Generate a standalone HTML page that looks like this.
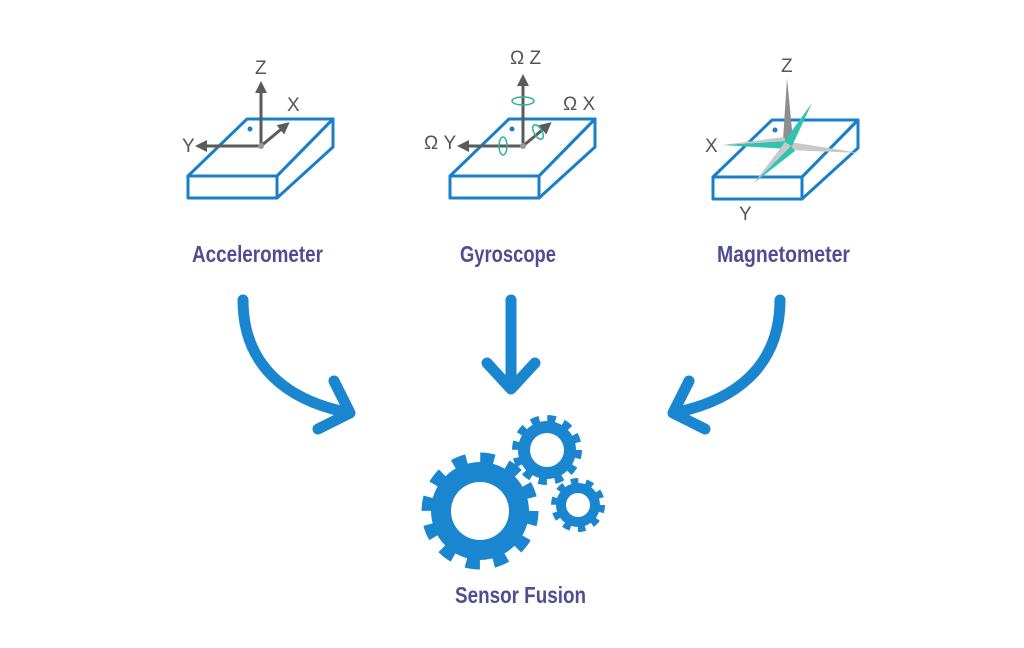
<!DOCTYPE html>
<html><head><meta charset="utf-8"><style>
html,body{margin:0;padding:0;background:#fff;width:1024px;height:648px;overflow:hidden}
text.l{font-family:"Liberation Sans Narrow","Liberation Sans",sans-serif;font-weight:bold;fill:#4f4e92;font-size:23px}
text.a{font-family:"Liberation Sans Narrow","Liberation Sans",sans-serif;fill:#555;font-size:19px}
</style></head><body>
<svg width="1024" height="648" viewBox="0 0 1024 648" xmlns="http://www.w3.org/2000/svg">
<defs>
<g id="box" fill="none" stroke="#1a7fc9" stroke-width="3" stroke-linejoin="round">
<polygon points="0,58 59,1 145,1 89,58"/>
<polygon points="0,58 89,58 89,80 0,80"/>
<polygon points="89,58 145,1 145,29 89,80"/>
<circle cx="62" cy="11" r="2.5" fill="#1a7fc9" stroke="none"/>
</g>
<marker id="ah" markerWidth="4" markerHeight="4" refX="2" refY="2" orient="auto"><path d="M0,0 L4,2 L0,4z" fill="#5b5b5b"/></marker>
</defs>
<use href="#box" x="188" y="118"/>
<g stroke="#5b5b5b" stroke-width="3" fill="none" marker-end="url(#ah)">
<line x1="261" y1="146" x2="261" y2="87"/>
<line x1="261" y1="146" x2="285" y2="126"/>
<line x1="261" y1="146" x2="201" y2="146"/>
</g>
<circle cx="261" cy="146" r="3" fill="#999"/>
<text class="a" x="255" y="74">Z</text><text class="a" x="287" y="111">X</text><text class="a" x="182" y="152">Y</text>
<use href="#box" x="450" y="118"/>
<g stroke="#5b5b5b" stroke-width="3" fill="none" marker-end="url(#ah)">
<line x1="523" y1="146" x2="523" y2="80"/>
<line x1="523" y1="146" x2="547" y2="126"/>
<line x1="523" y1="146" x2="463" y2="146"/>
</g>
<circle cx="523" cy="146" r="3" fill="#999"/>
<g fill="none" stroke="#2bb39a" stroke-width="1.5">
<ellipse cx="523" cy="101" rx="11" ry="4"/>
<ellipse cx="503" cy="146" rx="4" ry="9"/>
<ellipse cx="538" cy="132" rx="4" ry="8" transform="rotate(-30 538 132)"/>
</g>
<text class="a" x="510" y="64">Ω Z</text><text class="a" x="563" y="110">Ω X</text><text class="a" x="424" y="149">Ω Y</text>
<use href="#box" x="713" y="119"/>
<polygon points="787,78 793,140 783,140" fill="#8e8e8e"/>
<polygon points="722,145 786,141 788,149" fill="#2ec4b0"/>
<polygon points="722,145 786,141 784,137" fill="#c9c9c9"/>
<polygon points="860,153 790,142 788,150" fill="#c9c9c9"/>
<polygon points="812,103 783,143 792,146" fill="#2ec4b0"/>
<polygon points="754,183 791,146 785,142" fill="#c9c9c9"/>
<polygon points="754,183 791,146 795,151" fill="#2ec4b0"/>
<text class="a" x="781" y="72">Z</text><text class="a" x="705" y="152">X</text><text class="a" x="739" y="220">Y</text>
<text class="l" x="192" y="262" textLength="131" lengthAdjust="spacingAndGlyphs">Accelerometer</text>
<text class="l" x="460" y="262" textLength="96" lengthAdjust="spacingAndGlyphs">Gyroscope</text>
<text class="l" x="717" y="262" textLength="133" lengthAdjust="spacingAndGlyphs">Magnetometer</text>
<g fill="none" stroke="#1a86cf" stroke-width="11" stroke-linecap="round" stroke-linejoin="round">
<path d="M243,300 C243,360 280,398 345,412"/>
<polyline points="334,381 350,413 318,429"/>
<line x1="511" y1="300" x2="511" y2="388"/>
<polyline points="487,363 511,389 535,363"/>
<path d="M780,300 C780,360 743,398 678,412"/>
<polyline points="689,381 673,413 705,429"/>
</g>
<g fill="#1a86cf">
<circle cx="480" cy="511" r="53" fill="none" stroke="#1a86cf" stroke-width="11" stroke-dasharray="14 13.75"/>
<circle cx="480" cy="511" r="49"/>
<circle cx="480" cy="511" r="29" fill="#fff"/>
<circle cx="547" cy="450" r="31.5" fill="none" stroke="#1a86cf" stroke-width="7" stroke-dasharray="8.5 8"/>
<circle cx="547" cy="450" r="29"/>
<circle cx="547" cy="450" r="17" fill="#fff"/>
<circle cx="578" cy="505" r="24" fill="none" stroke="#1a86cf" stroke-width="6" stroke-dasharray="7.5 7.6"/>
<circle cx="578" cy="505" r="22"/>
<circle cx="578" cy="505" r="12" fill="#fff"/>
</g>
<text class="l" x="455" y="603" textLength="131" lengthAdjust="spacingAndGlyphs">Sensor Fusion</text>
</svg>
</body></html>
